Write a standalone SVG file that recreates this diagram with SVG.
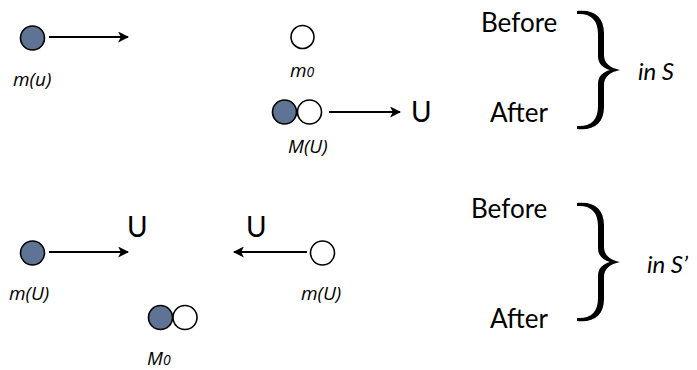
<svg xmlns="http://www.w3.org/2000/svg" width="697" height="370" viewBox="0 0 697 370">
<style>
.ball{stroke:#000;stroke-width:1.6}
.f{fill:#5f7494}
.o{fill:#fff}
.lbl{font-family:"Open Sans",sans-serif;font-style:italic;font-size:19px;fill:#000}
.big{font-family:Lato,"Open Sans",sans-serif;font-size:26px;fill:#000}
.u{font-family:Lato,"Open Sans",sans-serif;font-size:28px;fill:#000}
.it{font-family:Lato,"Open Sans",sans-serif;font-style:italic;font-size:24px;fill:#000}
.ln{stroke:#000;stroke-width:2;fill:none}
.sub{font-size:14px}
</style>
<defs>
<marker id="ah" viewBox="0 0 10 10" refX="9" refY="5" markerWidth="5.5" markerHeight="5.5" orient="auto-start-reverse" markerUnits="strokeWidth">
<path d="M0,0 L10,5 L0,10 L2.5,5 Z" fill="#000"/>
</marker>
<path id="brace" d="M577,11 C594,9 604,17 604,33 L604,55 C604,63 610,68 620,70 C610,72 604,77 604,85 L604,107 C604,123 594,131 577,129 L577,126 C591,127 598,120 598,106 L598,84 C598,76 603,72 610,70 C603,68 598,64 598,56 L598,34 C598,20 591,13 577,14 Z" fill="#000"/>
</defs>
<g id="connectors">
<line class="ln" x1="49" y1="37" x2="128" y2="37" marker-end="url(#ah)"/>
<line class="ln" x1="329" y1="112" x2="400" y2="112" marker-end="url(#ah)"/>
<line class="ln" x1="49" y1="252" x2="128" y2="252" marker-end="url(#ah)"/>
<line class="ln" x1="307" y1="252" x2="234" y2="252" marker-end="url(#ah)"/>
</g>
<g id="mu">
<circle class="ball f" cx="32.5" cy="38" r="12"/>
<text class="lbl" x="13" y="86">m(u)</text>
</g>
<g id="m0">
<circle class="ball o" cx="302.5" cy="37" r="11.5"/>
<text class="lbl" x="290" y="77">m<tspan class="sub">0</tspan></text>
</g>
<g id="MU">
<circle class="ball f" cx="284.5" cy="112" r="12"/>
<circle class="ball o" cx="309.5" cy="112" r="12"/>
<text class="lbl" x="288" y="153">M(U)</text>
<text class="u" x="411" y="122">U</text>
</g>
<g id="braceS">
<text class="big" x="481" y="32">Before</text>
<text class="big" x="490" y="122">After</text>
<use href="#brace"/>
<text class="it" x="638" y="80">in S</text>
</g>
<g id="mUleft">
<circle class="ball f" cx="32.5" cy="253" r="12"/>
<text class="lbl" x="9" y="300">m(U)</text>
<text class="u" x="127" y="237">U</text>
</g>
<g id="mUright">
<circle class="ball o" cx="322.5" cy="253" r="12"/>
<text class="lbl" x="301" y="300">m(U)</text>
<text class="u" x="246" y="237">U</text>
</g>
<g id="M0">
<circle class="ball f" cx="160.5" cy="317.5" r="12"/>
<circle class="ball o" cx="185" cy="317.5" r="12"/>
<text class="lbl" x="147" y="365">M<tspan class="sub">0</tspan></text>
</g>
<g id="braceS2">
<text class="big" x="471" y="218">Before</text>
<text class="big" x="490" y="328">After</text>
<use href="#brace" transform="translate(0,192)"/>
<text class="it" x="647" y="273">in S’</text>
</g>
</svg>
